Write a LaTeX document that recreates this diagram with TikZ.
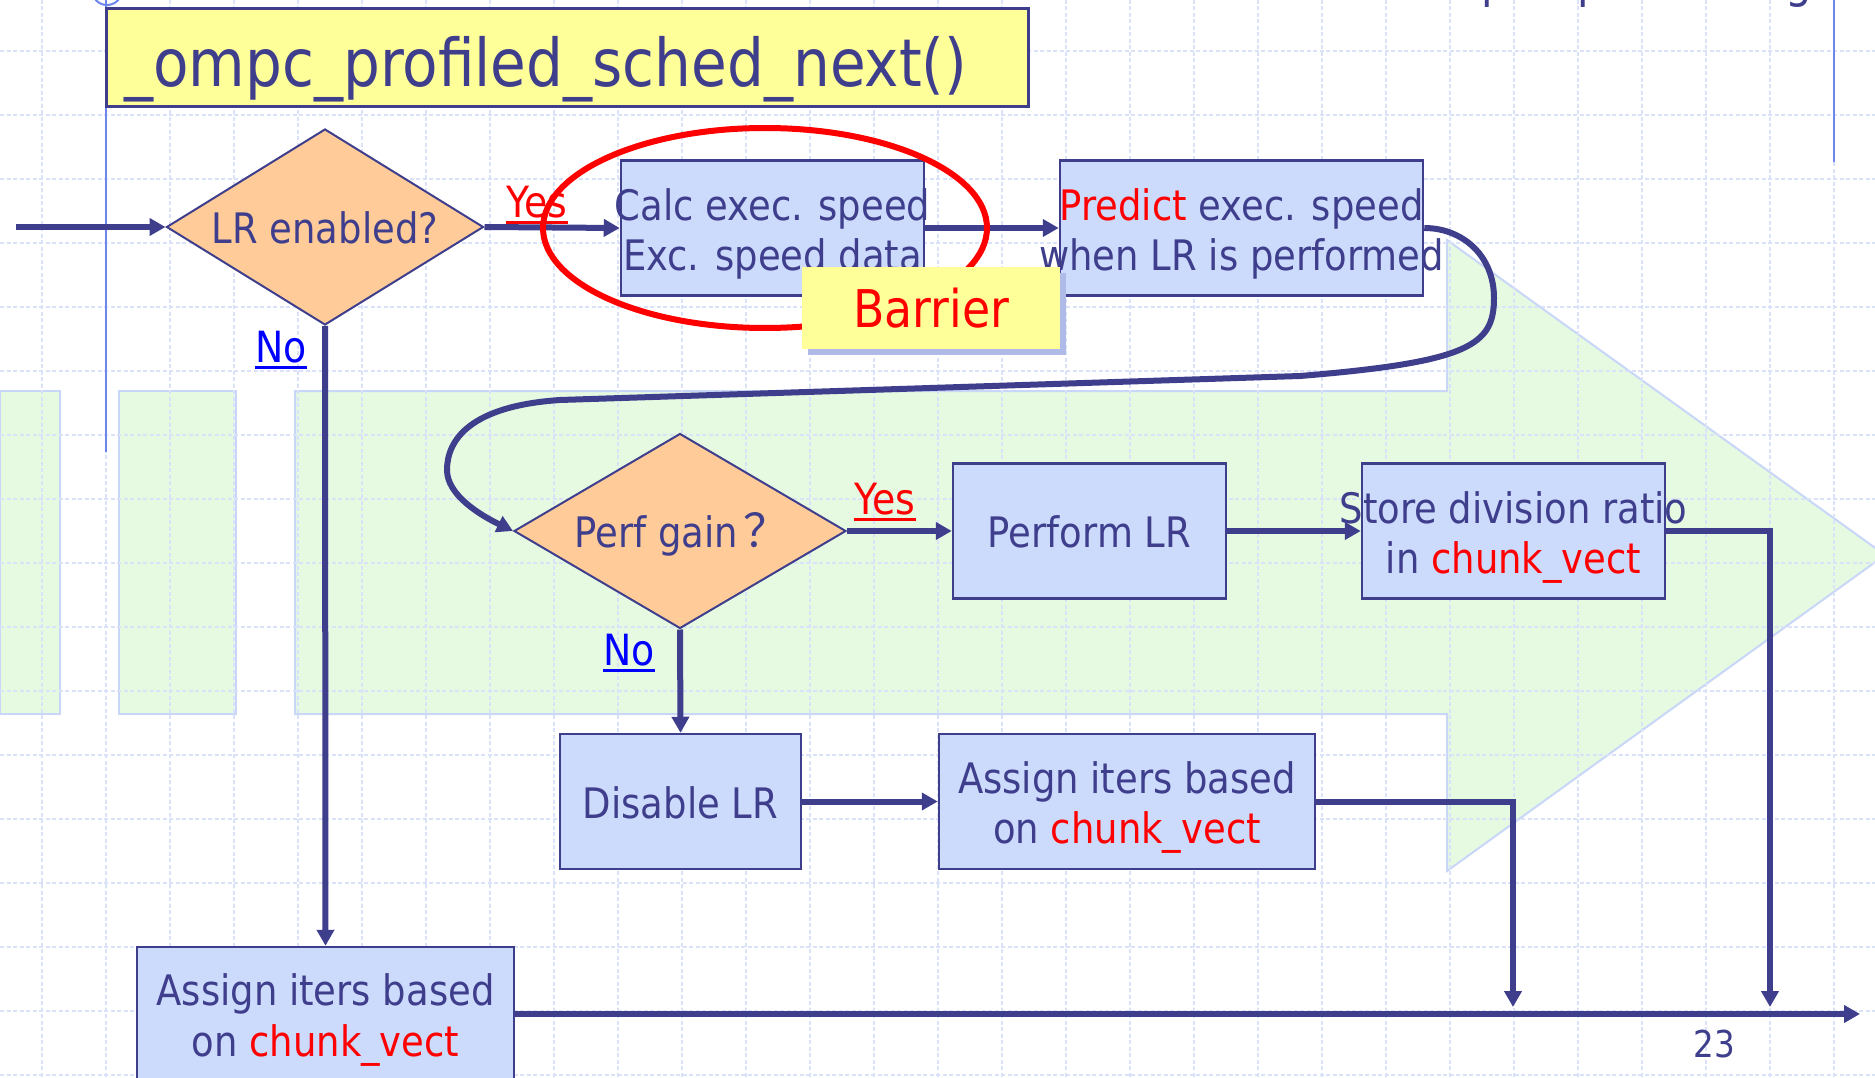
\documentclass[tikz,border=0pt]{standalone}
\usepackage{fontspec}
\setmainfont{DejaVu Sans}[FakeStretch=0.88]
\newfontfamily\cjkfont{Noto Sans CJK SC}
\usetikzlibrary{arrows.meta,shapes.geometric,calc}
\definecolor{ink}{RGB}{62,62,140}
\definecolor{boxfill}{RGB}{204,218,252}
\definecolor{peach}{RGB}{255,204,153}
\definecolor{lemon}{RGB}{255,255,153}
\definecolor{gridc}{RGB}{218,226,250}
\definecolor{greenf}{RGB}{230,250,226}
\definecolor{greenedge}{RGB}{200,214,248}
\definecolor{framec}{RGB}{110,135,240}
\definecolor{shadowc}{RGB}{176,186,232}
\definecolor{linkblue}{RGB}{0,0,255}
\newcommand{\fsz}[1]{\fontsize{#1}{#1}\selectfont}
\begin{document}
\begin{tikzpicture}[x=1pt,y=-1pt,
  gridline/.style={draw=gridc, line width=1.5pt, dash pattern=on 4pt off 2.5pt},
  greenpart/.style={fill=greenf, draw=greenedge, line width=2pt},
  frameline/.style={draw=framec, line width=2pt},
  flowbox/.style={rectangle, draw=ink, line width=2.5pt, fill=boxfill, inner sep=0pt},
  decision/.style={diamond, draw=ink, line width=2pt, fill=peach, inner sep=0pt},
  lbl/.style={text=ink, inner sep=0pt, font=\fsz{42}, anchor=base},
  conn/.style={draw=ink, line width=6pt},
  arr/.style={conn, -{Triangle[length=16pt,width=17pt]}},
  ]
\useasboundingbox (0,0) rectangle (1875,1078);
\fill[white] (0,0) rectangle (1875,1078);

% green background arrow
\path[greenpart] (0,391) rectangle (60,714);
\path[greenpart] (119,391) rectangle (236,714);
\path[greenpart] (295,391) -- (1447,391) -- (1447,240) -- (1885,555) -- (1447,871) -- (1447,714) -- (295,714) -- cycle;

% grid
\foreach \k in {0,...,28} \draw[gridline] ({42+64*\k},0) -- ({42+64*\k},1078);
\foreach \k in {0,...,16} \draw[gridline] (0,{51+64*\k}) -- (1875,{51+64*\k});

% frame decorations
\draw[frameline] (107,-10) circle (15);
\draw[frameline] (106,0) -- (106,452);
\draw[frameline] (1834,0) -- (1834,162);
\node[text=ink, inner sep=0pt, anchor=base west, font=\fsz{48}] (topp1) at (1481,-2) {p};
\node[text=ink, inner sep=0pt, anchor=base west, font=\fsz{48}] (topp2) at (1577,-2) {p};
\node[text=ink, inner sep=0pt, anchor=base west, font=\fsz{48}] (topg) at (1785,-2) {g};

% title
\node[rectangle, draw=ink, line width=3pt, fill=lemon, minimum width=922pt, minimum height=98pt, inner sep=0pt] (title) at (567,58) {};
\node[text=ink, inner sep=0pt, anchor=base west, font=\fsz{66}] (titletext) at (124,87) {\_ompc\_profiled\_sched\_next()};

% shapes
\node[decision, minimum width=317pt, minimum height=196pt] (lr) at (325,227) {};
\node[flowbox, minimum width=303pt, minimum height=135pt] (calc) at (772.5,228) {};
\node[flowbox, minimum width=363pt, minimum height=135pt] (predict) at (1241.5,228) {};
\node[decision, minimum width=332pt, minimum height=195pt] (perf) at (680,531) {};
\node[flowbox, minimum width=273pt, minimum height=135pt] (perform) at (1089.5,531) {};
\node[flowbox, minimum width=303pt, minimum height=135pt] (store) at (1513.5,531) {};
\node[flowbox, minimum width=241pt, minimum height=135pt] (disable) at (680.5,801.5) {};
\node[flowbox, minimum width=376pt, minimum height=135pt] (assignmid) at (1127,801.5) {};
\node[flowbox, minimum width=377pt, minimum height=150pt] (assignbot) at (325.5,1022) {};

% texts
\node[lbl] (lrt) at (325,244) {LR enabled?};
\node[lbl] (calct1) at (772.5,221) {Calc exec. speed};
\node[lbl] (calct2) at (772.5,271) {Exc. speed data};
\node[lbl] (predt1) at (1241.5,221) {{\color{red}Predict} exec. speed};
\node[lbl] (predt2) at (1241.5,271) {when LR is performed};
\node[lbl] (perft) at (682,547) {Perf gain\hspace{5pt}{\cjkfont\fsz{46}？}};
\node[lbl] (performt) at (1089.5,547) {Perform LR};
\node[lbl] (storet1) at (1513.5,523) {Store division ratio};
\node[lbl] (storet2) at (1513.5,573) {in {\color{red}chunk\_vect}};
\node[lbl] (disablet) at (680.5,818) {Disable LR};
\node[lbl] (assignmidt1) at (1127,793) {Assign iters based};
\node[lbl] (assignmidt2) at (1127,843) {on {\color{red}chunk\_vect}};
\node[lbl] (assignbott1) at (325.5,1005) {Assign iters based};
\node[lbl] (assignbott2) at (325.5,1056) {on {\color{red}chunk\_vect}};

% connectors
\coordinate (entry) at (16,227);
\draw[arr] (entry) -- (lr.west);
\draw[arr] (lr.east) -- (calc.west);
\draw[arr] (calc.east) -- (predict.west);
\draw[arr] (predict.east) .. controls (1462,228) and (1494,255) .. (1494,298)
  .. controls (1494,345) and (1470,362) .. (1300,376) -- (560,400)
  .. controls (470,406) and (447,440) .. (447,470)
  .. controls (447,495) and (480,515) .. (perf.west);
\draw[arr] (perf.east) -- (perform.west);
\draw[arr] (perform.east) -- (store.west);
\coordinate (drop1) at (1770,1007);
\coordinate (drop2) at (1513,1007);
\coordinate (exitpt) at (1860,1014);
\draw[arr] (store.east) -| (drop1);
\draw[arr] (lr.south) -- (assignbot.north);
\draw[arr] (perf.south) -- (disable.north);
\draw[arr] (disable.east) -- (assignmid.west);
\draw[arr] (assignmid.east) -| (drop2);
\draw[arr] (assignbot.east |- exitpt) -- (exitpt);

% branch labels
\node[lbl, text=red, font=\fsz{43}] (yes1) at (537,218) {Yes};
\draw[red, line width=3pt] ($(yes1.base west)+(0,5)$) -- ($(yes1.base east)+(0,5)$);
\node[lbl, text=linkblue, font=\fsz{43}] (no1) at (281,362) {No};
\draw[linkblue, line width=3pt] ($(no1.base west)+(0,5)$) -- ($(no1.base east)+(0,5)$);
\node[lbl, text=red, font=\fsz{43}] (yes2) at (885,514) {Yes};
\draw[red, line width=3pt] ($(yes2.base west)+(0,5)$) -- ($(yes2.base east)+(0,5)$);
\node[lbl, text=linkblue, font=\fsz{43}] (no2) at (629,665) {No};
\draw[linkblue, line width=3pt] ($(no2.base west)+(0,5)$) -- ($(no2.base east)+(0,5)$);

% barrier highlight
\draw[red, line width=6pt] (765,228) ellipse [x radius=222, y radius=100];
\fill[shadowc] (808,273) rectangle (1066,355);
\node[rectangle, fill=lemon, minimum width=258pt, minimum height=82pt, inner sep=0pt] (barrier) at (931,308) {};
\node[lbl, text=red, font=\fsz{52}] (barriert) at (931,327) {Barrier};

% page number
\node[lbl, font=\fsz{37}] (pagenum) at (1714,1057) {23};
\end{tikzpicture}
\end{document}
